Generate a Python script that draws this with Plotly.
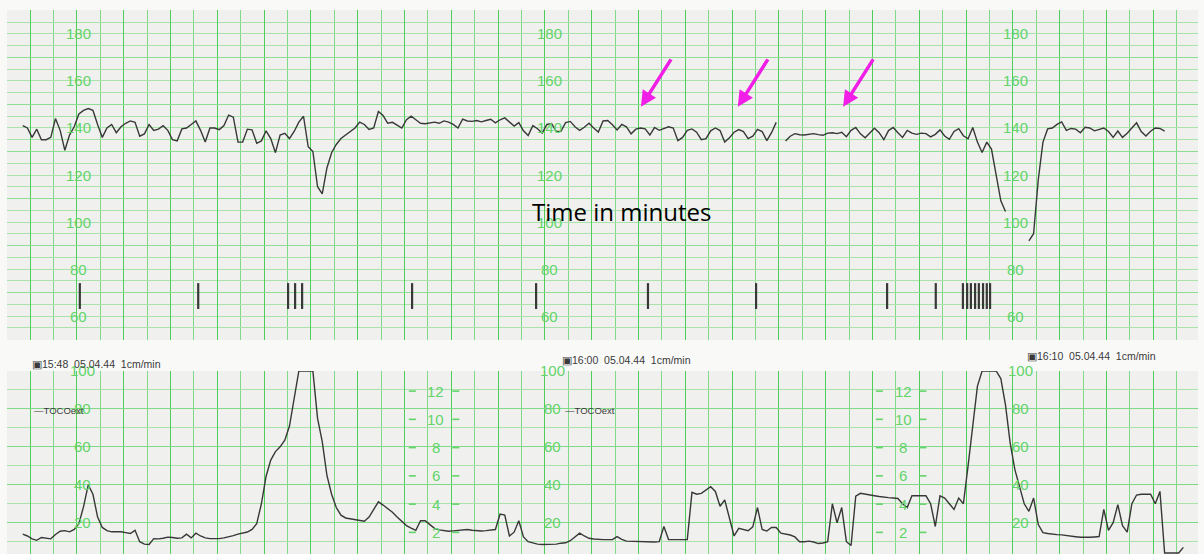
import plotly.graph_objects as go

# ---------------- data (read from the strip) ----------------
sample_step_min = 0.1
fhr_start_min = 0.4
fhr_bpm = [
    141, 140, 136, 139.5, 135, 135, 136, 144, 139, 130.5,
    137, 140.5, 146, 147.5, 148.3, 147.5, 141.5, 136, 140, 141.5,
    138, 140.5, 142, 143, 142.4, 136.5, 137.5, 141.5, 139, 139.5,
    141, 139, 135, 134.5, 139.6, 140, 141.5, 143, 139, 134,
    140, 140, 139.3, 141, 145.5, 144.6, 134, 134, 139.5, 139.2,
    133.5, 134.5, 138.8, 135.5, 129.5, 137, 137.7, 135.5, 138.5, 142.5,
    145, 132, 130, 115, 112, 123, 129.5, 133, 135.5, 137,
    138.5, 140, 142.5, 141.5, 139.4, 140, 147, 145.3, 142, 142.4,
    141.2, 140, 143.5, 145, 143.5, 142, 141.8, 142.2, 142.5, 142,
    143, 142.5, 141.5, 140, 143.8, 143, 142.8, 143.2, 142.6, 143.2,
    143.7, 142.2, 143.5, 144.3, 142.7, 140.8, 142.3, 138.8, 136.8, 141,
    139.7, 137.8, 141.5, 141.9, 138.5, 138.6, 142.3, 142.8, 140.5, 139,
    140.3, 142, 140, 138.3, 143, 143.2, 141.4, 139.2, 141.5, 140.5,
    137.5, 139.5, 140, 139.6, 137, 140.2, 139, 139.8, 140.5, 140,
    134.6, 136, 139, 139.6, 138.2, 135, 135.5, 138.8, 140, 138.9,
    134, 135.8, 138.2, 139.3, 138.5, 135.5, 136.5, 139.4, 138.5, 134.6,
    138, 142.4, None, 134.5, 136.5, 137.6, 137.1, 137, 137.3, 137.6,
    137.2, 136.9, 137.8, 138, 137.6, 138.2, 136.3, 139, 140.2, 137.5,
    135.8, 137.8, 139.9, 138, 135, 138.9, 140.2, 138, 136, 139,
    137.8, 137.3, 137.8, 137.6, 136.2, 137.3, 139.2, 136.6, 135.2, 138.5,
    139.7, 136.7, 135.4, 140.2, 134, 129.6, 134, 131, 120, 109,
    104.5, None, None, None, None, 92, 95, 118, 134, 139.6,
    140, 141.5, 142.6, 139, 139.8, 139.5, 138, 140.3, 140, 138.8,
    139.3, 140, 138.5, 136, 138.7, 136, 137.8, 140, 142.2, 138.5,
    136.6, 138.6, 140, 139.8, 138.7,
]

toco_start_min = 0.4
toco_val = [
    14, 13, 11.5, 10.7, 12.2, 12, 11.5, 13.8, 15.5, 15.8,
    15.2, 16.5, 19.5, 28.5, 40, 35, 23, 17.5, 15.8, 15.2,
    15.2, 15.2, 14.8, 14.3, 16, 10, 8.7, 8.5, 11.6, 11.5,
    11.8, 12.4, 12.2, 11.8, 12, 14, 12, 14.5, 13, 12,
    11.6, 11.6, 11.6, 12, 12.4, 13.2, 14, 14.6, 15.1, 16.5,
    19.5, 30, 44.5, 53, 57.5, 60, 63.5, 71, 86, 100,
    100, 100, 100, 75, 62.8, 45, 35, 28, 24, 22.5,
    22, 21.5, 21, 20.8, 23, 27, 31, 29.3, 27.5, 25.5,
    23, 21, 18.5, 17.2, 16, 21, 21, 19, 17, 16.2,
    15.8, 15.5, 15.7, 16, 16.2, 16.4, 16, 15.8, 15.6, 15.8,
    16.1, 16.4, 24.5, 24, 13, 15, 21, 12.5, 10, 9.2,
    8.7, 8.5, 8.5, 8.5, 8.7, 9.2, 9.4, 10.5, 12.5, 14.5,
    13, 11.8, 11.4, 11.1, 11.1, 11.1, 11.1, 12.7, 11.2, 10.3,
    10.2, 10.2, 10.2, 10, 9.9, 9.8, 10, 18, 11.1, 11.1,
    11.1, 11.1, 11.1, 36, 35, 35.5, 37.5, 39, 36.5, 28.7,
    32, 22, 13, 17, 16.5, 15.8, 17.8, 28, 16.4, 15.6,
    17.5, 17.5, 14.5, 14, 13.5, 12.5, 10, 10, 10.3, 9.8,
    9, 9.3, 10, 30, 20, 28, 10, 8, 34, 35.5,
    35.2, 34.7, 34.2, 33.8, 33.3, 33.2, 33, 32.8, 30, 28,
    34.2, 34.2, 34.2, 34.2, 30, 18, 34.2, 33, 30, 27,
    33, 30, 50, 70, 92, 100, 100, 100, 100, 96,
    82, 62, 48, 39, 30, 26, 33, 19, 14.8, 14.3,
    13.9, 13.7, 13.6, 13.4, 13, 12.6, 12.3, 12.2, 12.3, 12.5,
    12.7, 27, 16, 20, 29.5, 18.4, 15, 30, 34.6, 35,
    35, 35, 30, 36.5, 4, 4, 4, 4, 7,
]

movement_marks_min = [1.62, 4.15, 6.07, 6.22, 6.37, 8.72, 11.37, 13.76, 16.07,
                      18.87, 19.91, 20.49, 20.58, 20.66, 20.75, 20.83, 20.92, 21.0, 21.07]
movement_mark_bpm = [63, 74]

fhr_tick_labels = [180, 160, 140, 120, 100, 80, 60]
toco_tick_labels = [100, 80, 60, 40, 20]
pressure_tick_labels = [12, 10, 8, 6, 4, 2]
pressure_to_toco = 7.45

stamp_times = ["15:48", "16:00", "16:10"]
stamp_date = "05.04.44"
paper_speed = "1cm/min"
toco_mode = "TOCOext"
caption = "Time in minutes"

arrow_targets_min = [13.61, 15.68, 17.93]
arrow_target_bpm = 149

# ---------------- layout constants ----------------
W, H = 1204, 554
X_RANGE = [0.064, 25.513]
FHR_RANGE = [49.8, 190.2]
TOCO_RANGE = [3.5, 100]
GREEN = "#4fcf5a"
GREEN_MINOR = "#a9e3ab"
LABEL_GREEN = "#63d46a"
INK = "#383838"

fhr_label_cols = [1.60, 11.65, 21.62]
toco_label_cols = [1.67, 11.71, 21.71]
pressure_cols = [9.23, 19.21]
stamp_x = [0.556, 11.88, 21.82]
stamp_y = [0.350, 0.356, 0.364]
toco_mode_x = [0.60, 11.94]

fhr_t = [round(fhr_start_min + sample_step_min * i, 3) for i in range(len(fhr_bpm))]
toco_t = [round(toco_start_min + sample_step_min * i, 3) for i in range(len(toco_val))]

fig = go.Figure()

fig.add_trace(go.Scatter(x=fhr_t, y=fhr_bpm, mode="lines", xaxis="x", yaxis="y",
                         line=dict(color=INK, width=1.4), connectgaps=False,
                         hoverinfo="skip", showlegend=False))

mx, my = [], []
for t in movement_marks_min:
    mx += [t, t, None]
    my += [movement_mark_bpm[0], movement_mark_bpm[1], None]
fig.add_trace(go.Scatter(x=mx, y=my, mode="lines", xaxis="x", yaxis="y",
                         line=dict(color=INK, width=2.2), hoverinfo="skip", showlegend=False))

fig.add_trace(go.Scatter(x=toco_t, y=toco_val, mode="lines", xaxis="x2", yaxis="y2",
                         line=dict(color=INK, width=1.4), hoverinfo="skip", showlegend=False))

# pressure scale dashes
dx, dy = [], []
for c in pressure_cols:
    for v in pressure_tick_labels:
        yv = v * pressure_to_toco
        dx += [c - 0.58, c - 0.43, None, c + 0.35, c + 0.50, None]
        dy += [yv, yv, None, yv, yv, None]
fig.add_trace(go.Scatter(x=dx, y=dy, mode="lines", xaxis="x2", yaxis="y2",
                         line=dict(color=LABEL_GREEN, width=1.6), hoverinfo="skip", showlegend=False))

ann = []
for c in fhr_label_cols:
    for v in fhr_tick_labels:
        ann.append(dict(x=c, y=v, xref="x", yref="y", text=str(v), showarrow=False,
                        font=dict(size=15, color=LABEL_GREEN, family="Liberation Sans")))
for c in toco_label_cols:
    for v in toco_tick_labels:
        ann.append(dict(x=c, y=v, xref="x2", yref="y2", text=str(v), showarrow=False,
                        font=dict(size=15, color=LABEL_GREEN, family="Liberation Sans")))
for c in pressure_cols:
    for v in pressure_tick_labels:
        ann.append(dict(x=c, y=v * pressure_to_toco, xref="x2", yref="y2", text=str(v),
                        showarrow=False,
                        font=dict(size=15, color=LABEL_GREEN, family="Liberation Sans")))
for x, y, tm in zip(stamp_x, stamp_y, stamp_times):
    ann.append(dict(x=x, y=y, xref="x", yref="paper", xanchor="left", yanchor="middle",
                    text=f"▣{tm}  {stamp_date}  {paper_speed}", showarrow=False,
                    font=dict(size=10.5, color="#3a3a3a", family="Liberation Sans")))
for x in toco_mode_x:
    ann.append(dict(x=x, y=79, xref="x2", yref="y2", xanchor="left", yanchor="middle",
                    text="—" + toco_mode, showarrow=False,
                    font=dict(size=9.5, color="#3a3a3a", family="Liberation Sans")))
for t in arrow_targets_min:
    ann.append(dict(x=t, y=arrow_target_bpm, xref="x", yref="y", text="", showarrow=True,
                    ax=31, ay=-49, arrowcolor="#f01ee6", arrowwidth=3.5, arrowhead=2,
                    arrowsize=0.9, standoff=0))
ann.append(dict(x=13.2, y=104.5, xref="x", yref="y", text=caption, showarrow=False,
                font=dict(size=24, color="#000000", family="Open Sans")))

common_x = dict(range=X_RANGE, showticklabels=False, ticks="", zeroline=False,
                showgrid=True, gridcolor=GREEN, gridwidth=1.3, tick0=0.556, dtick=1,
                minor=dict(showgrid=True, gridcolor="#7fd987", gridwidth=1, tick0=0.556, dtick=0.5),
                showline=False, fixedrange=True)

fig.update_layout(
    width=W, height=H,
    margin=dict(l=7, r=6, t=10, b=0),
    paper_bgcolor="#f9f9f8",
    plot_bgcolor="#f0f1ee",
    showlegend=False,
    font=dict(family="Liberation Sans"),
    xaxis=dict(anchor="y", domain=[0, 1], **common_x),
    xaxis2=dict(anchor="y2", domain=[0, 1], **common_x),
    yaxis=dict(domain=[0.3934, 1], range=FHR_RANGE, showticklabels=False, ticks="",
               zeroline=False, showgrid=True, gridcolor="#8fdc95", gridwidth=1.2,
               tick0=10, dtick=20,
               minor=dict(showgrid=True, gridcolor=GREEN_MINOR, gridwidth=1, tick0=0, dtick=5),
               showline=False, fixedrange=True),
    yaxis2=dict(domain=[0, 0.3364], range=TOCO_RANGE, showticklabels=False, ticks="",
                zeroline=False, showgrid=True, gridcolor="#7fd987", gridwidth=1.2,
                tick0=0, dtick=20,
                minor=dict(showgrid=True, gridcolor=GREEN_MINOR, gridwidth=1, tick0=0, dtick=10),
                showline=False, fixedrange=True),
    annotations=ann,
)

fig.write_html("out.html", config={"displayModeBar": False},
               post_script="document.body.style.margin='0px';document.body.style.overflow='hidden';")
